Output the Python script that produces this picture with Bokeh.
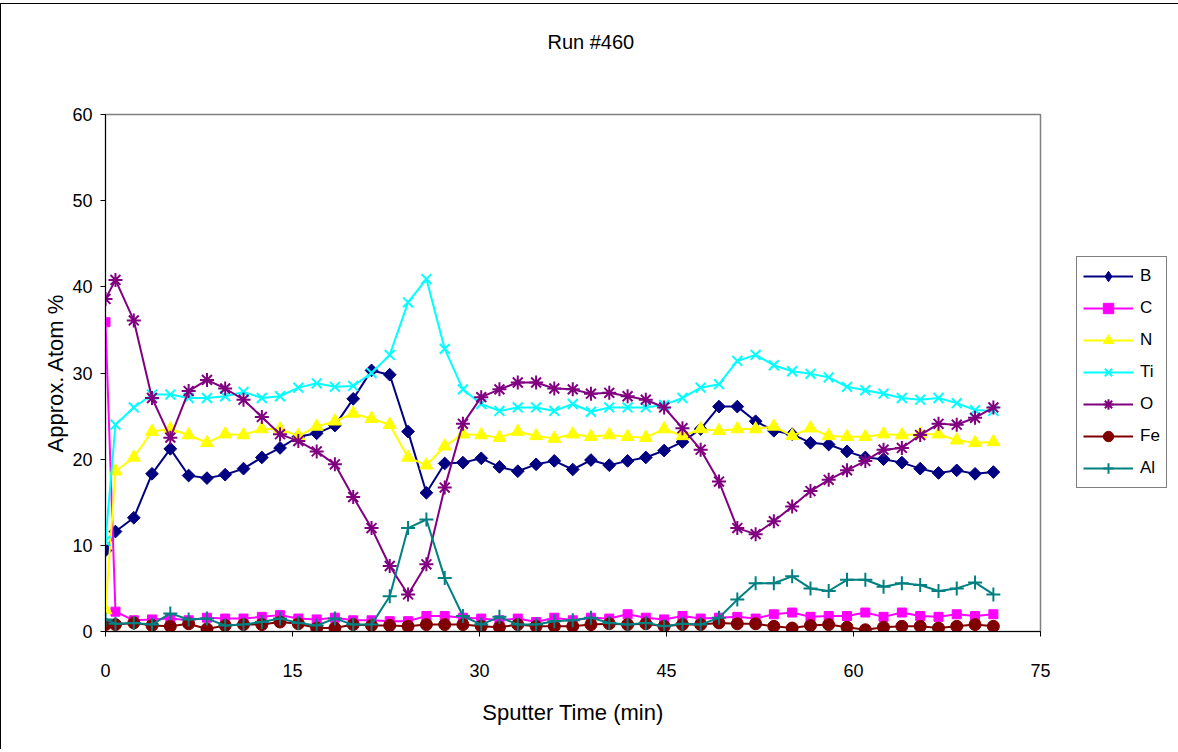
import math
from bokeh.plotting import figure
from bokeh.models import Legend, LegendItem, Range1d, FixedTicker, Title
from bokeh.embed import file_html
from bokeh.resources import INLINE

# ---- data ----
time_min = [0, 0.8, 2.27, 3.73, 5.2, 6.67, 8.14, 9.6, 11.07, 12.54,
            14.0, 15.47, 16.94, 18.4, 19.87, 21.34, 22.8, 24.27, 25.74, 27.21,
            28.67, 30.14, 31.6, 33.07, 34.54, 36.0, 37.48, 38.94, 40.41, 41.88,
            43.34, 44.81, 46.28, 47.74, 49.21, 50.68, 52.15, 53.61, 55.08, 56.55,
            58.01, 59.48, 60.95, 62.41, 63.88, 65.35, 66.82, 68.28, 69.75, 71.22]

B = [9.4, 11.6, 13.2, 18.3, 21.2, 18.1, 17.8, 18.2, 18.9, 20.2,
     21.3, 22.6, 23.0, 23.9, 27.0, 30.3, 29.8, 23.2, 16.1, 19.5,
     19.6, 20.1, 19.1, 18.6, 19.4, 19.8, 18.8, 19.9, 19.3, 19.8,
     20.2, 21.0, 22.0, 23.5, 26.1, 26.1, 24.4, 23.3, 22.9, 21.9,
     21.7, 20.9, 20.2, 20.0, 19.6, 18.9, 18.4, 18.7, 18.3, 18.5]
C = [35.9, 2.3, 1.3, 1.4, 1.5, 1.3, 1.6, 1.5, 1.5, 1.7,
     1.9, 1.5, 1.4, 1.6, 1.3, 1.3, 1.2, 1.2, 1.8, 1.8,
     1.6, 1.5, 1.3, 1.5, 1.1, 1.6, 1.3, 1.6, 1.5, 2.0,
     1.6, 1.4, 1.8, 1.5, 1.6, 1.7, 1.5, 2.0, 2.2, 1.7,
     1.8, 1.8, 2.2, 1.7, 2.2, 1.8, 1.7, 2.0, 1.8, 2.0]
N = [2.5, 18.6, 20.2, 23.2, 23.5, 22.8, 21.9, 22.9, 22.8, 23.5,
     23.5, 22.7, 23.8, 24.4, 25.3, 24.7, 24.0, 20.2, 19.3, 21.5,
     22.9, 22.8, 22.5, 23.2, 22.7, 22.4, 22.9, 22.6, 22.8, 22.6,
     22.5, 23.5, 22.7, 23.5, 23.3, 23.5, 23.5, 23.8, 22.7, 23.6,
     22.7, 22.6, 22.6, 22.9, 22.8, 22.9, 22.9, 22.2, 21.9, 22.0]
Ti = [10.5, 24.0, 26.0, 27.5, 27.5, 27.1, 27.1, 27.3, 27.8, 27.1,
      27.3, 28.3, 28.8, 28.4, 28.5, 30.0, 32.1, 38.2, 40.9, 32.8,
      28.1, 26.4, 25.6, 26.0, 26.0, 25.6, 26.4, 25.5, 26.0, 26.0,
      26.0, 26.3, 27.1, 28.3, 28.7, 31.4, 32.1, 30.9, 30.2, 29.9,
      29.5, 28.4, 28.0, 27.6, 27.1, 26.9, 27.1, 26.5, 25.7, 25.6]
O = [38.6, 40.8, 36.1, 27.1, 22.5, 27.9, 29.2, 28.2, 26.9, 24.9,
     22.9, 22.1, 20.9, 19.4, 15.6, 12.0, 7.6, 4.3, 7.8, 16.7,
     24.1, 27.2, 28.1, 28.9, 28.9, 28.2, 28.1, 27.6, 27.7, 27.3,
     26.9, 26.0, 23.6, 21.1, 17.4, 12.0, 11.3, 12.8, 14.5, 16.3,
     17.6, 18.7, 19.8, 21.1, 21.3, 22.8, 24.1, 24.0, 24.8, 26.0]
Fe = [0.8, 0.8, 1.0, 0.7, 0.6, 0.9, 0.3, 0.7, 0.8, 0.8,
      1.1, 0.9, 0.4, 0.4, 0.8, 0.7, 0.7, 0.6, 0.8, 0.8,
      0.8, 0.6, 0.5, 0.8, 0.6, 0.6, 0.6, 0.8, 0.9, 0.8,
      0.9, 0.6, 0.8, 0.8, 1.0, 0.9, 0.9, 0.6, 0.4, 0.7,
      0.8, 0.5, 0.2, 0.5, 0.6, 0.6, 0.4, 0.6, 0.8, 0.6]
Al = [1.4, 0.9, 1.0, 0.8, 2.1, 1.4, 1.5, 0.7, 0.8, 1.1,
      1.5, 1.0, 0.7, 1.5, 0.8, 0.8, 4.1, 12.0, 13.0, 6.2,
      1.8, 0.8, 1.7, 0.8, 0.8, 1.2, 1.3, 1.6, 1.0, 0.8,
      1.0, 0.6, 0.9, 0.8, 1.6, 3.7, 5.6, 5.6, 6.4, 5.0,
      4.7, 6.0, 6.0, 5.2, 5.6, 5.4, 4.7, 5.0, 5.7, 4.3]

series_names = ["B", "C", "N", "Ti", "O", "Fe", "Al"]
x_ticks = [0, 15, 30, 45, 60, 75]
y_ticks = [0, 10, 20, 30, 40, 50, 60]
title_text = "Run #460"

# ---- styles ----
styles = {
    "B":  dict(color="#000080", marker="square", size=9, angle=math.pi / 4, lw=1, leg="diamond"),
    "C":  dict(color="#FF00FF", marker="square", size=9, angle=0, lw=1, leg=None),
    "N":  dict(color="#FFFF00", marker="triangle", size=13, angle=0, lw=1, leg=None),
    "Ti": dict(color="#00FFFF", marker="x", size=14, angle=0, lw=2, leg=None),
    "O":  dict(color="#800080", marker="asterisk", size=14, angle=0, lw=2, leg=None),
    "Fe": dict(color="#800000", marker="circle", size=12, angle=0, lw=1, leg=None),
    "Al": dict(color="#008080", marker="cross", size=14, angle=0, lw=2, leg=None),
}
data = {"B": B, "C": C, "N": N, "Ti": Ti, "O": O, "Fe": Fe, "Al": Al}
FONT = "Liberation Sans"

p = figure(frame_width=935, frame_height=517, output_backend="svg", toolbar_location=None,
           x_range=Range1d(0, 75), y_range=Range1d(0, 60),
           min_border_left=104, min_border_right=137,
           min_border_top=110, min_border_bottom=118,
           background_fill_color="white", border_fill_color="white")

# title (outermost) + an invisible spacer title between it and the frame
p.title.text = title_text
p.title.align = "left"
p.title.offset = 442
p.title.standoff = 0
p.title.text_font = FONT
p.title.text_font_size = "20px"
p.title.text_font_style = "normal"
p.title.text_color = "black"
spacer = Title(text=" ", text_font_size="40px", standoff=16, text_color="white")
p.add_layout(spacer, "above")

p.outline_line_color = "#808080"
p.outline_line_width = 1.5
p.xgrid.visible = False
p.ygrid.visible = False

for ax in (p.xaxis[0], p.yaxis[0]):
    ax.axis_line_color = "black"
    ax.axis_line_width = 1
    ax.major_tick_in = 0
    ax.major_tick_out = 5
    ax.major_tick_line_color = "black"
    ax.minor_tick_line_color = None
    ax.major_label_text_font = FONT
    ax.major_label_text_font_size = "18px"
    ax.major_label_text_color = "black"
    ax.axis_label_text_font = FONT
    ax.axis_label_text_font_size = "22px"
    ax.axis_label_text_font_style = "normal"
    ax.axis_label_text_color = "black"

p.xaxis.ticker = FixedTicker(ticks=x_ticks)
p.yaxis.ticker = FixedTicker(ticks=y_ticks)
p.xaxis.axis_label = "Sputter Time (min)"
p.yaxis.axis_label = "Approx. Atom %"
p.xaxis.major_label_standoff = 27
p.xaxis.axis_label_standoff = 20
p.yaxis.major_label_standoff = 8
p.yaxis.axis_label_standoff = 1

items = []
for name in series_names:
    st = styles[name]
    vals = data[name]
    lr = p.line(time_min, vals, line_color=st["color"], line_width=2)
    sr = p.scatter(time_min, vals, marker=st["marker"], size=st["size"], angle=st["angle"],
                   fill_color=st["color"], line_color=st["color"], line_width=st["lw"])
    if st["leg"] is not None:
        # zero-size proxy: draws nothing in the plot, gives the legend a diamond
        lg = p.scatter(time_min, vals, marker=st["leg"], size=0,
                       fill_color=st["color"], line_color=st["color"])
        items.append(LegendItem(label=name, renderers=[lr, lg]))
    else:
        items.append(LegendItem(label=name, renderers=[lr, sr]))

legend = Legend(items=items, location=(36, 143), margin=0,
                border_line_color="black", border_line_width=1,
                background_fill_color="white", background_fill_alpha=1,
                glyph_width=50, glyph_height=26, spacing=6, padding=6,
                label_standoff=7, label_text_font=FONT, label_text_font_size="17px",
                label_text_color="black")
p.add_layout(legend, "right")

p.styles = {"border-left": "1px solid black", "border-right": "1px solid black",
            "border-top": "1px solid black", "margin-top": "3px"}

open("out.html", "w").write(file_html(p, INLINE))
